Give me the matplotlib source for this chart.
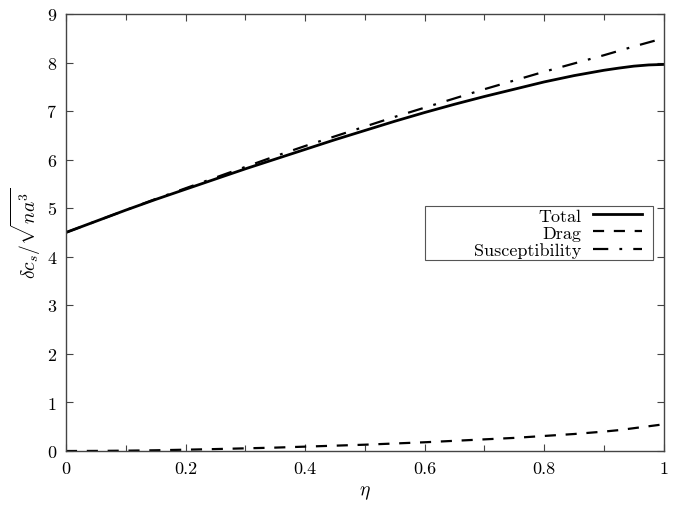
import matplotlib
matplotlib.use("Agg")
import matplotlib.pyplot as plt
from matplotlib.ticker import MultipleLocator, FuncFormatter
from matplotlib.patches import Rectangle

plt.rcParams['font.family'] = 'cmr10'
plt.rcParams['mathtext.fontset'] = 'cm'
plt.rcParams['axes.formatter.use_mathtext'] = True
plt.rcParams['lines.scale_dashes'] = False

eta = [0.0, 0.05, 0.1, 0.15, 0.2, 0.25, 0.3, 0.35, 0.4, 0.45, 0.5,
       0.55, 0.6, 0.65, 0.7, 0.75, 0.8, 0.85, 0.9, 0.925, 0.95, 0.975, 1.0]
total = [4.50, 4.73, 4.96, 5.18, 5.39, 5.60, 5.81, 6.01, 6.21, 6.41, 6.60,
         6.79, 6.97, 7.14, 7.30, 7.45, 7.60, 7.73, 7.84, 7.885, 7.925, 7.95, 7.96]
drag = [0.0, 0.002, 0.007, 0.015, 0.027, 0.04, 0.055, 0.07, 0.09, 0.11, 0.13,
        0.155, 0.18, 0.21, 0.24, 0.27, 0.31, 0.35, 0.40, 0.43, 0.47, 0.51, 0.55]
suscept = [4.50, 4.73, 4.96, 5.19, 5.41, 5.63, 5.85, 6.07, 6.28, 6.48, 6.68,
           6.88, 7.07, 7.26, 7.45, 7.63, 7.81, 7.98, 8.15, 8.24, 8.33, 8.415, 8.50]
labels = ["Total", "Drag", "Susceptibility"]

fig = plt.figure(figsize=(6.8, 5.1), dpi=100)
ax = fig.add_axes([0.097, 0.1137, 0.879, 0.857])

ax.plot(eta, total, color='black', lw=2.0, label=labels[0])
ax.plot(eta, drag, color='black', lw=1.6, dashes=(8, 7), label=labels[1])
ax.plot(eta, suscept, color='black', lw=1.6, dashes=(11, 8, 2, 8), label=labels[2])

ax.set_xlim(0, 1)
ax.set_ylim(0, 9)
ax.xaxis.set_major_locator(MultipleLocator(0.2))
ax.xaxis.set_minor_locator(MultipleLocator(0.1))
ax.yaxis.set_major_locator(MultipleLocator(1))
fmt = FuncFormatter(lambda v, p: f"{v:g}")
ax.xaxis.set_major_formatter(fmt)
ax.yaxis.set_major_formatter(fmt)
ax.tick_params(which='both', direction='in', top=True, right=True,
               labelsize=13, color='#444444')
ax.tick_params(which='major', length=5, width=0.8, pad=7)
ax.tick_params(which='minor', length=4, width=0.8)
for s in ax.spines.values():
    s.set_color('#444444')
    s.set_linewidth(1.0)

ax.set_xlabel(r'$\eta$', fontsize=14, labelpad=5)
ax.set_ylabel(r'$\delta c_s/\sqrt{na^3}$', fontsize=14, labelpad=3)

# legend frame (gnuplot-style box with generous padding)
ax.add_patch(Rectangle((0.600, 0.437), 0.382, 0.124, transform=ax.transAxes,
                       facecolor='white', edgecolor='#555555', lw=0.8, zorder=4))
leg = ax.legend(loc='center right', bbox_to_anchor=(0.964, 0.499),
                markerfirst=False, frameon=False, fontsize=13,
                handlelength=2.7, handletextpad=0.65, labelspacing=0.08,
                borderpad=0.0, borderaxespad=0)
leg.set_zorder(5)
for col in leg._legend_handle_box.get_children():
    col.align = 'right'

fig.savefig('out.png', dpi=100)
